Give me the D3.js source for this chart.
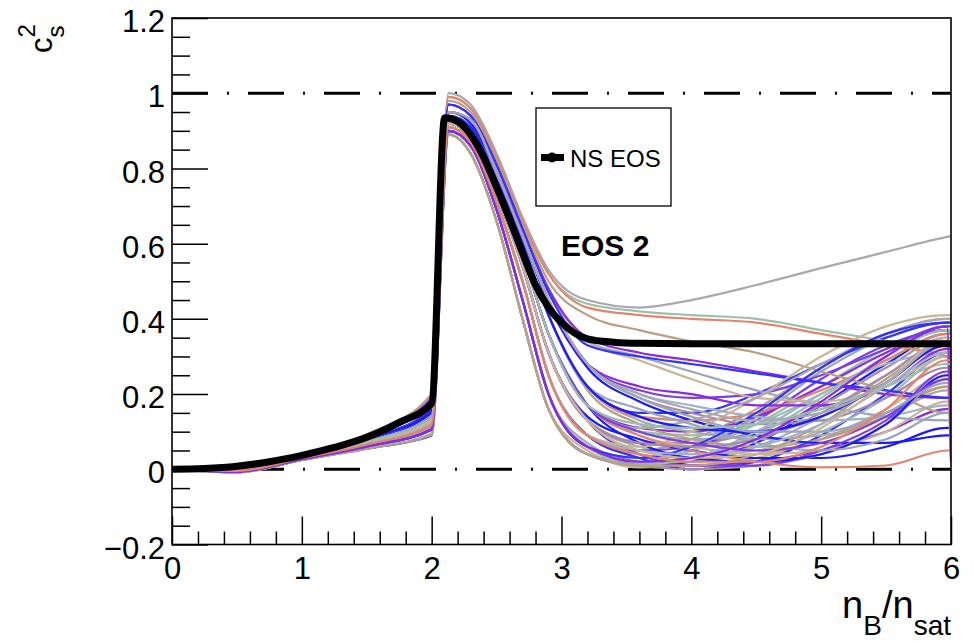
<!DOCTYPE html>
<html>
<head>
<meta charset="utf-8">
<script src="https://cdn.jsdelivr.net/npm/d3@7"></script>
<style>
  html, body { margin: 0; padding: 0; background: #fff; }
  svg { display: block; font-family: "Liberation Sans", Arial, Helvetica, sans-serif; }
</style>
</head>
<body>
<svg id="chart" width="973" height="641"></svg>
<script>
// Density grid (n_B / n_sat) shared by the sampled equation-of-state curves
const bandDensity = [0, 0.5, 1, 1.5, 2, 2.13, 2.3, 2.5, 2.7, 2.9, 3.2, 3.6, 4, 4.5, 5, 5.5, 5.97, 6];

// Sampled speed-of-sound curves c_s^2 on bandDensity
const bandCurves = [
  [0,-.008,.025,.055,.090, .89,.84,.66,.40,.16,.04, .01,.02,.07,.17,.28,.36,.36],
  [0,-.008,.025,.055,.092, .89,.84,.66,.40,.16,.04, .02,.05,.14,.26,.35,.39,.39],
  [0,-.006,.027,.060,.105, .89,.84,.66,.40,.16,.05, .005,.01,.03,.08,.16,.25,.25],
  [0,-.006,.027,.060,.105, .90,.86,.69,.45,.20,.06, .02,.01,.02,.05,.10,.16,.16],
  [0,-.006,.027,.061,.108, .90,.86,.69,.45,.20,.06, .03,.05,.12,.22,.32,.38,.38],
  [0,-.004,.030,.066,.120, .90,.86,.69,.45,.20,.07, .02,.02,.06,.14,.25,.34,.02],
  [0,-.004,.030,.066,.120, .91,.87,.71,.50,.25,.09, .04,.03,.04,.08,.15,.22,.22],
  [0,-.004,.030,.067,.122, .91,.87,.71,.50,.25,.09, .05,.08,.16,.27,.36,.40,.40],
  [0,-.004,.030,.066,.118, .91,.87,.71,.50,.25,.09, .03,.00,.02,.09,.20,.31,.31],
  [0,-.002,.032,.072,.135, .92,.88,.73,.54,.31,.13, .06,.04,.05,.10,.19,.30,.30],
  [0,-.002,.032,.072,.135, .92,.88,.73,.54,.31,.13, .07,.07,.10,.17,.27,.35,.05],
  [0,-.002,.032,.071,.132, .92,.88,.73,.54,.31,.13, .05,.06,.13,.24,.33,.37,.37],
  [0,-.002,.032,.072,.135, .92,.88,.73,.54,.31,.14, .08,.05,.03,.03,.06,.11,.11],
  [0,-.002,.032,.073,.138, .93,.90,.75,.57,.36,.17, .10,.08,.09,.14,.23,.33,.33],
  [0,-.002,.032,.073,.138, .93,.90,.75,.57,.36,.17, .09,.06,.04,.05,.10,.18,.18],
  [0,0,.035,.080,.155, .93,.90,.75,.57,.36,.17, .11,.10,.14,.22,.31,.37,.37],
  [0,0,.035,.080,.152, .93,.90,.75,.57,.36,.17, .10,.09,.12,.20,.29,.36,.08],
  [0,0,.035,.080,.155, .94,.91,.77,.60,.41,.22, .13,.10,.08,.09,.14,.21,.21],
  [0,0,.035,.081,.158, .94,.91,.77,.60,.41,.22, .14,.13,.15,.21,.29,.36,.36],
  [0,0,.035,.080,.155, .94,.91,.77,.60,.41,.21, .12,.08,.06,.08,.14,.22,.03],
  [0,0,.036,.082,.160, .94,.91,.77,.60,.41,.22, .15,.15,.20,.28,.35,.39,.39],
  [0,.002,.038,.088,.180, .95,.93,.79,.62,.45,.28, .20,.17,.14,.13,.14,.17,.17],
  [0,.002,.038,.087,.178, .95,.93,.79,.62,.45,.28, .19,.15,.12,.13,.19,.27,.27],
  [0,.002,.038,.088,.182, .95,.93,.79,.62,.45,.28, .21,.19,.20,.25,.32,.38,.38],
  [0,.002,.038,.087,.176, .95,.92,.79,.62,.44,.27, .18,.13,.09,.07,.07,.09,.09],
  [0,.002,.038,.089,.185, .97,.94,.81,.64,.48,.34, .30,.26,.21,.17,.14,.13,.13],
  [0,.002,.038,.088,.183, .97,.94,.81,.64,.48,.34, .29,.24,.19,.18,.22,.30,.30],
  [0,.004,.040,.092,.195, .97,.94,.81,.64,.48,.35, .31,.29,.26,.23,.20,.19,.19],
  [0,.004,.040,.092,.200, .99,.96,.83,.66,.52,.44, .42,.41,.40,.37,.34,.30,.30],
  [0,.004,.040,.093,.200, 1.0,.97,.84,.67,.53,.45, .43,.45,.49,.535,.578,.618,.62],
  [0,.004,.040,.092,.198, .99,.96,.83,.66,.52,.43, .41,.40,.39,.36,.33,.30,.04],
  [0,.003,.039,.090,.190, .98,.95,.82,.65,.50,.41, .37,.34,.31,.26,.21,.15,.15],
  [0,.003,.039,.090,.188, .97,.94,.81,.64,.47,.33, .30,.28,.255,.23,.21,.19,.19],
  [0,-.008,.025,.056,.095, .89,.84,.66,.40,.16,.04, .015,.03,.10,.20,.28,.31,.31],
  [0,-.004,.030,.066,.115, .90,.86,.69,.45,.20,.06, .01,.00,.01,.04,.12,.24,.24],
  [0,-.002,.032,.072,.130, .92,.88,.73,.54,.31,.13, .04,.01,.01,.05,.13,.26,.26],
  [0,0,.035,.079,.150, .93,.90,.75,.57,.36,.17, .07,.03,.02,.04,.12,.25,.25],
  [0,0,.035,.080,.157, .94,.91,.77,.60,.41,.22, .16,.12,.07,.05,.08,.15,.15],
  [0,-.004,.030,.067,.124, .91,.87,.71,.50,.25,.09, .06,.10,.19,.30,.38,.41,.41],
  [0,.002,.038,.088,.180, .95,.93,.79,.62,.45,.28, .22,.20,.17,.17,.22,.32,.32],
  [0,-.006,.027,.060,.110, .90,.86,.69,.45,.20,.06, .01,.03,.09,.19,.30,.37,.37],
  [0,-.002,.032,.073,.140, .93,.90,.75,.57,.36,.17, .11,.13,.19,.28,.36,.40,.40],
  [0,-.002,.032,.072,.135, .93,.90,.75,.57,.36,.17, .09,.05,.02,.005,.01,.05,.05],
  [0,-.008,.025,.055,.092, .89,.84,.66,.40,.16,.04, .01,.01,.04,.12,.24,.33,.33],
  [0,-.006,.027,.061,.106, .90,.86,.69,.45,.20,.06, .03,.06,.15,.27,.36,.39,.39],
  [0,-.004,.030,.067,.121, .91,.87,.71,.50,.25,.09, .05,.04,.06,.12,.22,.31,.31],
  [0,-.002,.032,.072,.133, .92,.88,.73,.54,.31,.13, .07,.06,.08,.15,.25,.34,.34],
  [0,-.002,.032,.073,.140, .93,.90,.75,.57,.36,.17, .10,.07,.05,.07,.14,.24,.24],
  [0,0,.035,.080,.156, .94,.91,.77,.60,.41,.22, .14,.11,.10,.14,.23,.33,.33],
  [0,.002,.038,.087,.179, .95,.93,.79,.62,.45,.28, .19,.14,.10,.10,.15,.23,.23],
  [0,-.002,.032,.071,.131, .92,.88,.73,.54,.31,.13, .05,.03,.04,.11,.23,.35,.35],
  [0,-.006,.027,.060,.107, .90,.86,.69,.45,.20,.06, .02,.03,.08,.18,.30,.38,.02],
  [0,-.002,.032,.073,.139, .93,.90,.75,.57,.36,.17, .12,.11,.12,.16,.22,.28,.28],
  [0,.002,.038,.088,.181, .95,.93,.79,.62,.45,.28, .20,.16,.13,.15,.23,.34,.34],
  [0,-.004,.030,.066,.119, .91,.87,.71,.50,.25,.09, .04,.02,.02,.06,.16,.29,.29]
];

// Line colours cycled over the sampled curves
const bandColors = ["#1a1aff", "#9aa6bb", "#c9b597", "#8a2be2", "#9cbfad", "#a8a8b0",
                    "#e0866f", "#b99f83", "#3333ff", "#a0b2c8", "#a68aa6", "#7b3fe4"];

// Neutron-star EOS reference curve
const nsDensity = [0, 0.25, 0.5, 0.75, 1, 1.25, 1.5, 1.75, 2.0, 2.1, 2.2, 2.3, 2.4, 2.5, 2.6, 2.7,
                   2.8, 2.9, 3.0, 3.1, 3.2, 3.4, 3.6, 4, 5, 6];
const nsCs2 = [0, 0.002, 0.008, 0.02, 0.037, 0.058, 0.085, 0.125, 0.175, 0.935, 0.925, 0.89, 0.83,
               0.75, 0.665, 0.575, 0.49, 0.43, 0.39, 0.362, 0.347, 0.338, 0.335, 0.334, 0.334, 0.334];

// Axis ticks and labels
const xMajorTicks = [0, 1, 2, 3, 4, 5, 6];
const xTickLabels = ["0", "1", "2", "3", "4", "5", "6"];
const yMajorTicks = [-0.2, 0, 0.2, 0.4, 0.6, 0.8, 1.0, 1.2];
const yTickLabels = ["\u22120.2", "0", "0.2", "0.4", "0.6", "0.8", "1", "1.2"];
const referenceLevels = [0, 1];

const svg = d3.select("#chart");
const frameL = 172, frameR = 951, frameT = 18, frameB = 544.5;

const x = d3.scaleLinear().domain([0, 6]).range([frameL, frameR]);
const y = d3.scaleLinear().domain([-0.2, 1.2]).range([frameB, frameT]);

svg.append("defs").append("clipPath").attr("id", "frameClip")
  .append("rect").attr("x", frameL).attr("y", frameT)
  .attr("width", frameR - frameL).attr("height", frameB - frameT);

// Dash-dotted reference levels
svg.append("g").selectAll("line").data(referenceLevels).join("line")
  .attr("x1", frameL).attr("x2", frameR)
  .attr("y1", d => y(d)).attr("y2", d => y(d))
  .attr("stroke", "#000").attr("stroke-width", 3)
  .attr("stroke-dasharray", "36,19,2,19");

// Sampled curves
const bandLine = d3.line()
  .x((d, i) => x(bandDensity[i]))
  .y(d => y(d))
  .curve(d3.curveMonotoneX);

svg.append("g").attr("clip-path", "url(#frameClip)")
  .selectAll("path").data(bandCurves).join("path")
  .attr("d", bandLine)
  .attr("fill", "none")
  .attr("stroke", (d, i) => bandColors[i % bandColors.length])
  .attr("stroke-width", 2.2)
  .attr("stroke-linejoin", "round");

// NS EOS curve
const nsLine = d3.line()
  .x((d, i) => x(nsDensity[i]))
  .y(d => y(d))
  .curve(d3.curveMonotoneX);

svg.append("path").datum(nsCs2)
  .attr("clip-path", "url(#frameClip)")
  .attr("d", nsLine)
  .attr("fill", "none")
  .attr("stroke", "#000")
  .attr("stroke-width", 7)
  .attr("stroke-linejoin", "round");

// Frame
svg.append("rect")
  .attr("x", frameL).attr("y", frameT)
  .attr("width", frameR - frameL).attr("height", frameB - frameT)
  .attr("fill", "none").attr("stroke", "#000").attr("stroke-width", 1.6);

// Y axis: major and minor ticks pointing inwards
const yMinor = d3.range(-0.2, 1.2001, 0.05).filter(v => Math.abs(Math.round(v * 5) - v * 5) > 1e-6);
svg.append("g").attr("transform", `translate(${frameL},0)`)
  .call(d3.axisLeft(y).tickValues(yMinor).tickSize(-18).tickFormat(""))
  .call(g => g.select(".domain").remove())
  .call(g => g.selectAll("line").attr("stroke-width", 1.5));

const yAxis = svg.append("g").attr("transform", `translate(${frameL},0)`)
  .call(d3.axisLeft(y).tickValues(yMajorTicks).tickSize(-36).tickPadding(7)
    .tickFormat((d, i) => yTickLabels[i]));
yAxis.select(".domain").remove();
yAxis.selectAll("line").attr("stroke-width", 1.5);
yAxis.selectAll("text").attr("font-size", 31).attr("dy", "0.44em").attr("fill", "#000")
  .attr("font-family", "Liberation Sans, Arial, sans-serif");

// X axis
const xMinor = d3.range(0, 6.001, 0.2).filter(v => Math.abs(Math.round(v) - v) > 1e-6);
svg.append("g").attr("transform", `translate(0,${frameB})`)
  .call(d3.axisBottom(x).tickValues(xMinor).tickSize(-13).tickFormat(""))
  .call(g => g.select(".domain").remove())
  .call(g => g.selectAll("line").attr("stroke-width", 1.5));

const xAxis = svg.append("g").attr("transform", `translate(0,${frameB})`)
  .call(d3.axisBottom(x).tickValues(xMajorTicks).tickSize(-28).tickPadding(12)
    .tickFormat((d, i) => xTickLabels[i]));
xAxis.select(".domain").remove();
xAxis.selectAll("line").attr("stroke-width", 1.5);
xAxis.selectAll("text").attr("font-size", 31).attr("fill", "#000")
  .attr("font-family", "Liberation Sans, Arial, sans-serif");

// Axis titles
const xTitle = svg.append("text")
  .attr("x", frameR).attr("y", 618)
  .attr("text-anchor", "end").attr("fill", "#000");
xTitle.append("tspan").attr("font-size", 38).text("n");
xTitle.append("tspan").attr("font-size", 28).attr("dy", 17).text("B");
xTitle.append("tspan").attr("font-size", 38).attr("dy", -17).text("/n");
xTitle.append("tspan").attr("font-size", 28).attr("dy", 17).text("sat");

const yTitle = svg.append("text")
  .attr("transform", "translate(52,53) rotate(-90)")
  .attr("x", 0).attr("y", 0).attr("fill", "#000");
yTitle.append("tspan").attr("font-size", 31).text("c");
yTitle.append("tspan").attr("font-size", 24).attr("dy", 12).text("s");
yTitle.append("tspan").attr("font-size", 24).attr("dx", -12).attr("dy", -29).text("2");

// Legend
const legend = svg.append("g");
legend.append("rect")
  .attr("x", 536).attr("y", 108).attr("width", 135).attr("height", 98)
  .attr("fill", "#fff").attr("stroke", "#000").attr("stroke-width", 1.3);
legend.append("line")
  .attr("x1", 541).attr("x2", 564).attr("y1", 157.5).attr("y2", 157.5)
  .attr("stroke", "#000").attr("stroke-width", 7);
legend.append("circle")
  .attr("cx", 552).attr("cy", 157.5).attr("r", 5).attr("fill", "#000");
legend.append("text")
  .attr("x", 570).attr("y", 166.5).attr("font-size", 24).attr("fill", "#000")
  .text("NS EOS");

// Panel label
svg.append("text")
  .attr("x", 561).attr("y", 256).attr("font-size", 30).attr("font-weight", "bold")
  .attr("fill", "#000").text("EOS 2");
</script>
</body>
</html>
